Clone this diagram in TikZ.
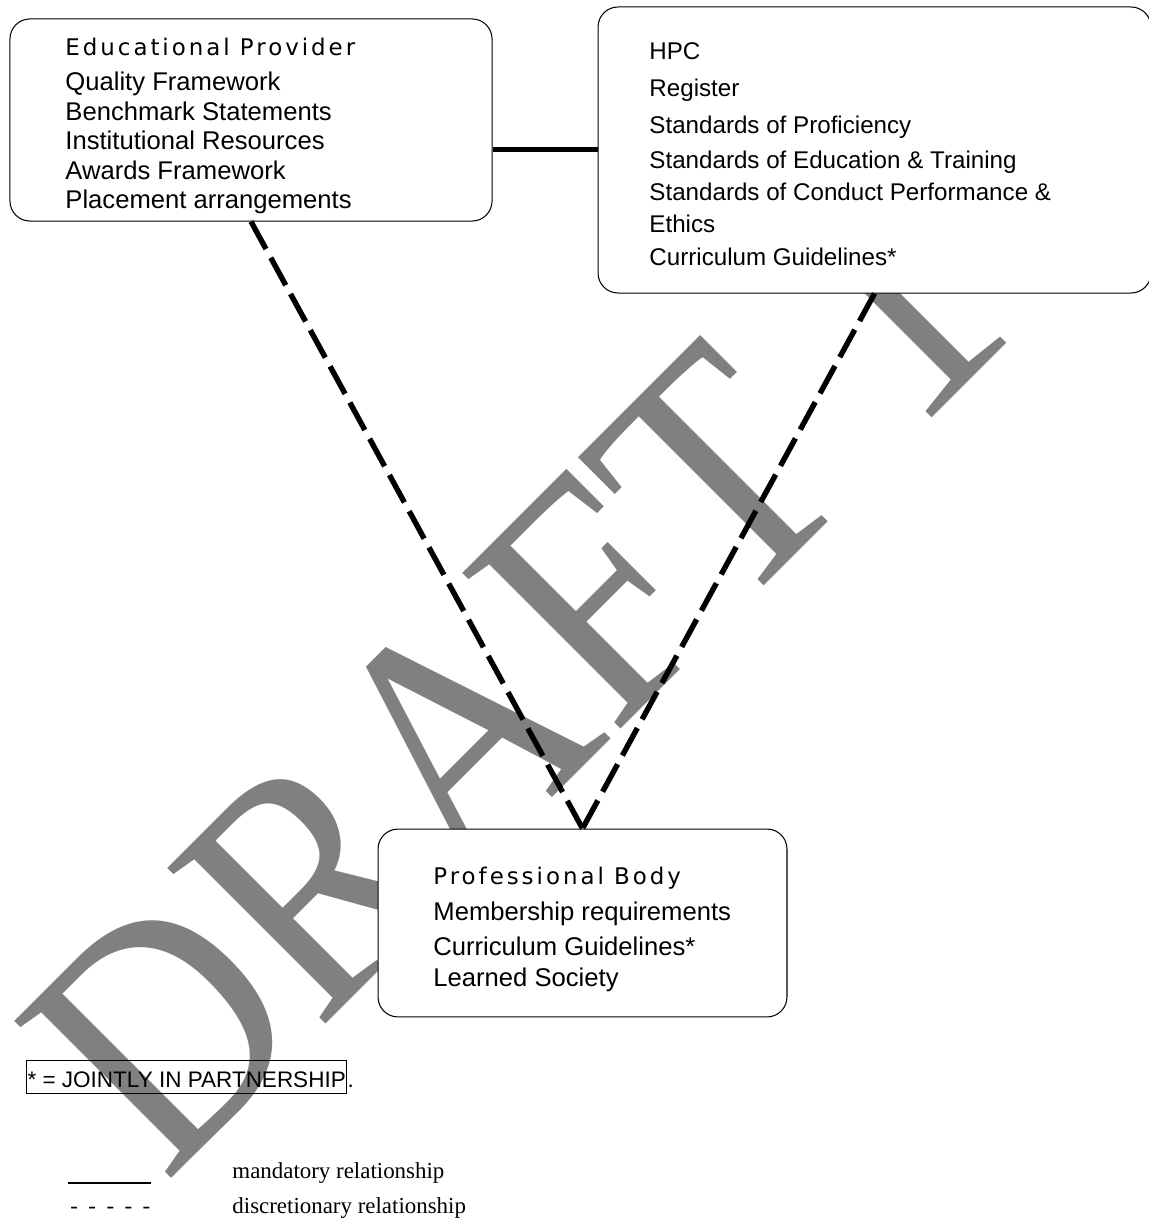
\documentclass[tikz,border=0pt]{standalone}
\usepackage{fontspec}
\setmainfont{Liberation Sans}
\newfontfamily\headfont[LetterSpace=13]{DejaVu Sans}
\newfontfamily\seriffont{Liberation Serif}

\begin{document}
\begin{tikzpicture}[x=0.48pt,y=-0.48pt,
  box/.style={draw, fill=white, rounded corners=9.6pt, line width=0.5pt, inner sep=0pt},
  entry/.style={anchor=base west, inner sep=0pt},
  mandatory/.style={line width=2.4pt},
  discretionary/.style={line width=2.6pt, dash pattern=on 15pt off 4.8pt},
  key/.style={anchor=base west, inner sep=0pt, font=\seriffont\fontsize{11}{13}\selectfont}]
\definecolor{draft gray}{gray}{0.5}
\useasboundingbox (0,0) rectangle (1149,1222);
\node[rotate=45, yscale=1.13, anchor=base west, inner sep=0pt, text=draft gray,
      font=\seriffont\fontsize{144}{144}\selectfont] (draft) at (165,1185) {DRAFT 1};

\node[box, minimum width=231.4pt, minimum height=97pt] (edu) at (251,120) {};
\node[box, minimum width=265.4pt, minimum height=137.3pt] (hpc) at (874.5,150) {};
\node[box, minimum width=196.3pt, minimum height=90.2pt] (prof) at (582.5,923) {};

\draw[mandatory] (edu.east |- hpc.west) -- (hpc.west);
\draw[discretionary] (edu.south) -- (prof.north);
\draw[discretionary] (hpc.south) -- (prof.north);

\node[entry, font=\fontsize{12.3}{14.16}\selectfont] (eduText) at (65,56) {\begin{tabular}[t]{@{}l@{}}
  {\headfont\fontsize{11}{13}\selectfont Educational Provider}\\[2.5pt]
  Quality Framework\\
  Benchmark Statements\\
  Institutional Resources\\
  Awards Framework\\
  Placement arrangements
\end{tabular}};
\node[entry, font=\fontsize{11.6}{15.36}\selectfont] (hpcText) at (649,59.3) {\begin{tabular}[t]{@{}l@{}}
  HPC\\[2.6pt]
  Register\\[2.1pt]
  Standards of Proficiency\\[1.4pt]
  Standards of Education \& Training\\
  Standards of Conduct Performance \&\\
  Ethics\\[0.7pt]
  Curriculum Guidelines*
\end{tabular}};
\node[entry, font=\fontsize{12.3}{15.2}\selectfont] (profText) at (433,884) {\begin{tabular}[t]{@{}l@{}}
  {\headfont\fontsize{11}{13}\selectfont Professional Body}\\[2.1pt]
  Membership requirements\\[1.6pt]
  Curriculum Guidelines*\\
  Learned Society
\end{tabular}};

\node[draw, line width=0.5pt, inner xsep=0.5pt, inner ysep=0pt, text height=12.5pt, text depth=2.9pt,
      anchor=base west, font=\fontsize{10.8}{13}\selectfont] (note) at (26,1087) {* = JOINTLY IN PARTNERSHIP};
\node[entry, font=\fontsize{10.8}{13}\selectfont] (dot) at (note.base east) {.};

\coordinate (keyStart) at (68,1183);
\coordinate (keyEnd) at (151,1183);
\draw[line width=1.3pt] (keyStart) -- (keyEnd);
\node[key] (mandText) at (232,1178) {mandatory relationship};
\node[key] (dashText) at (70,1213) {-\hspace{5pt}-\hspace{5pt}-\hspace{5pt}-\hspace{5pt}-};
\node[key] (discText) at (232,1213) {discretionary relationship};
\end{tikzpicture}
\end{document}
